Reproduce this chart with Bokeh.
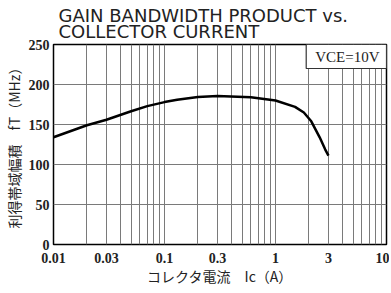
from bokeh.plotting import figure
from bokeh.models import FixedTicker, Label, Title, Range1d
from bokeh.embed import file_html
from bokeh.resources import INLINE

# Data
current_a = [0.01, 0.02, 0.03, 0.05, 0.07, 0.1, 0.13, 0.2, 0.3, 0.6, 1.0, 1.5, 1.8, 2.1, 2.5, 2.8, 3.0]
ft_mhz = [134, 149, 156, 166.5, 173, 178, 181, 184.5, 185.5, 184, 180, 172, 165, 154, 134, 119, 111]

x_major = [0.01, 0.03, 0.1, 0.3, 1, 3, 10]
x_minor = [0.02, 0.04, 0.05, 0.06, 0.07, 0.08, 0.09,
           0.2, 0.4, 0.5, 0.6, 0.7, 0.8, 0.9,
           2, 4, 5, 6, 7, 8, 9]
y_ticks = [0, 50, 100, 150, 200, 250]
x_min, x_max = 0.01, 10
y_min, y_max = 0, 250

p = figure(frame_width=333, frame_height=200, x_axis_type="log",
           x_range=Range1d(x_min, x_max), y_range=Range1d(y_min, y_max),
           output_backend="svg", toolbar_location=None,
           min_border_left=47, min_border_right=3,
           min_border_top=40, min_border_bottom=38)
p.title = None

title = Title(text="GAIN BANDWIDTH PRODUCT vs.\nCOLLECTOR CURRENT",
              text_font="DejaVu Sans", text_font_size="18px",
              text_font_style="normal", text_color="#222222",
              align="left", offset=5, standoff=4, text_line_height=0.8)
p.add_layout(title, "above")

p.line(current_a, ft_mhz, line_color="black", line_width=2.5)

p.xaxis.ticker = FixedTicker(ticks=x_major, minor_ticks=x_minor)
p.yaxis.ticker = FixedTicker(ticks=y_ticks)
p.xaxis.major_label_overrides = {v: ("%g" % v) for v in x_major}

for ax in (p.xaxis[0], p.yaxis[0]):
    ax.major_tick_out = 0
    ax.major_tick_in = 0
    ax.minor_tick_out = 0
    ax.minor_tick_in = 0
    ax.axis_line_color = None
    ax.major_label_text_font = "Liberation Serif"
    ax.major_label_text_font_size = "14px"
    ax.major_label_text_font_style = "bold"
    ax.major_label_text_color = "#222222"
    ax.axis_label_text_font = "Noto Sans CJK JP"
    ax.axis_label_text_font_size = "14px"
    ax.axis_label_text_font_style = "normal"
    ax.axis_label_text_color = "#222222"

p.xaxis.axis_label = "コレクタ電流　Ic（A）"
p.yaxis.axis_label = "利得帯域幅積　fT（MHz）"
p.xaxis.major_label_standoff = 8
p.yaxis.major_label_standoff = 4
p.xaxis.axis_label_standoff = 0
p.yaxis.axis_label_standoff = 2

p.xgrid.grid_line_color = "#7a7a7a"
p.xgrid.grid_line_width = 1
p.xgrid.minor_grid_line_color = "#7a7a7a"
p.xgrid.minor_grid_line_width = 1
p.ygrid.grid_line_color = "#7a7a7a"
p.ygrid.grid_line_width = 1

p.outline_line_color = "black"
p.outline_line_width = 1.5
p.background_fill_color = "white"
p.border_fill_color = "white"

vce = Label(x=x_max, y=y_max,
            text="VCE=10V", text_font="Liberation Serif", text_font_size="15px",
            text_align="right", text_baseline="top", text_color="#222222",
            border_line_color="#333333", border_line_width=1.2,
            background_fill_color="white",
            padding=dict(left=9, right=7, top=4, bottom=4))
p.add_layout(vce)

open("out.html", "w").write(file_html(p, INLINE))
